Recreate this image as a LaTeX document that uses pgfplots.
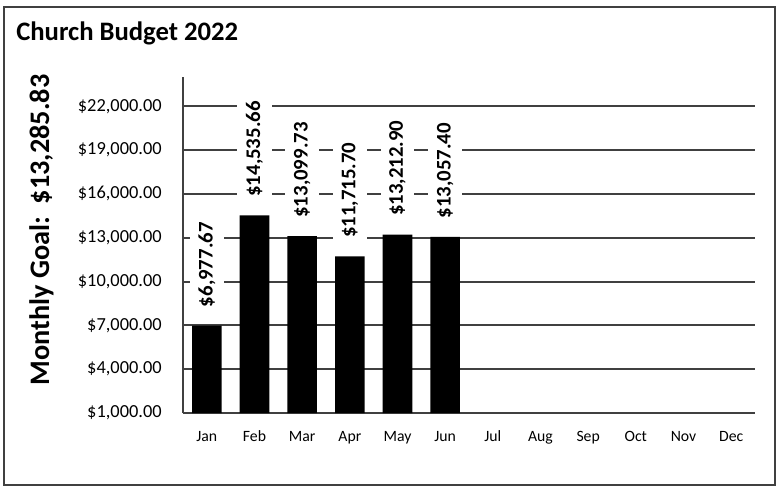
\documentclass[border=0pt]{standalone}
\usepackage{fontspec}
\setmainfont{Carlito}
\usepackage{pgfplots}
\pgfplotsset{compat=1.18}
\definecolor{gridgray}{RGB}{64,64,64}

\begin{document}
\begin{tikzpicture}
% frame and texts in pixel units (1px = 0.75pt), origin bottom left
\begin{scope}[x=0.75pt,y=0.75pt]
\path[use as bounding box] (0,0) rectangle (777,487);
\draw[gridgray, line width=1.5pt] (4,480) rectangle (775,2);
\node[anchor=base west, inner sep=0pt, font=\bfseries\fontsize{20}{24}\selectfont]
  at (16,447) {Church Budget 2022};
\node[rotate=90, anchor=base, inner sep=0pt, font=\bfseries\fontsize{21.2}{25}\selectfont]
  at (49,257) {Monthly Goal:\ \ \$13,285.83};
\end{scope}

\begin{axis}[
	at={(137.25pt,55.5pt)}, anchor=south west,
	scale only axis, width=429pt, height=252pt,
	xmin=-0.5, xmax=11.5,
	ymin=1000, ymax=24000,
	scaled y ticks=false,
	axis x line*=bottom, axis y line*=left,
	axis line style={-, draw=gridgray, line width=1.5pt},
	xtick={0,...,11},
	xticklabels={Jan,Feb,Mar,Apr,May,Jun,Jul,Aug,Sep,Oct,Nov,Dec},
	ytick={1000,4000,7000,10000,13000,16000,19000,22000},
	yticklabels={{\$1,000.00},{\$4,000.00},{\$7,000.00},{\$10,000.00},{\$13,000.00},{\$16,000.00},{\$19,000.00},{\$22,000.00}},
	ymajorgrids,
	grid style={draw=gridgray, line width=1.5pt},
	major tick length=0pt,
	tick style={draw=none},
	xticklabel style={font=\fontsize{11.8}{14}\selectfont, anchor=base, inner sep=0pt, yshift=-21pt},
	yticklabel style={font=\fontsize{13.8}{16}\selectfont, anchor=east, inner sep=0pt, xshift=-15.75pt},
	ybar, bar width=22.2pt, bar shift=0pt,
	nodes near coords,
	point meta=explicit symbolic,
	every node near coord/.append style={
		rotate=90, anchor=west, fill=white,
		inner xsep=7pt, outer xsep=7pt, inner ysep=6.5pt,
		font=\bfseries\fontsize{15.6}{18}\selectfont,
	},
]
\addplot[fill=black, draw=none] coordinates {
	(0,6977.67) [\$6,977.67]
	(1,14535.66) [\$14,535.66]
	(2,13099.73) [\$13,099.73]
	(3,11715.70) [\$11,715.70]
	(4,13212.90) [\$13,212.90]
	(5,13057.40) [\$13,057.40]
};
\end{axis}
\end{tikzpicture}
\end{document}
